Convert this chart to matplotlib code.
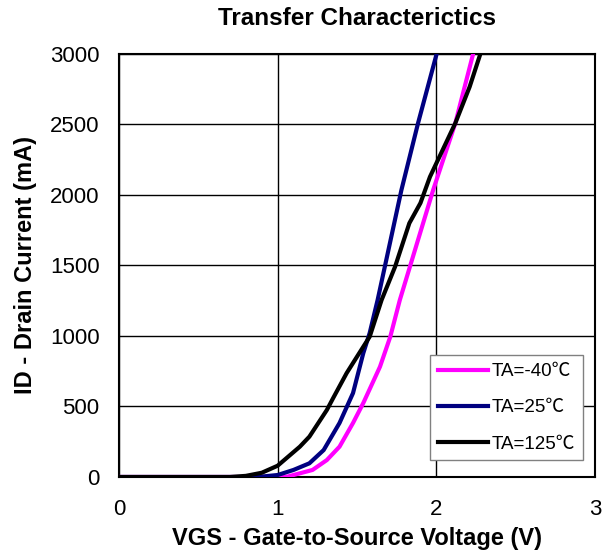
import matplotlib
matplotlib.use("Agg")
import matplotlib.pyplot as plt

plt.rcParams['font.family'] = ['Liberation Sans', 'Noto Sans CJK SC', 'DejaVu Sans']

# -40 C (magenta)
vgs_m40 = [0.0, 0.9, 1.06, 1.22, 1.31, 1.39, 1.475, 1.54, 1.645, 1.71, 1.77, 1.98, 2.12, 2.23]
id_m40 = [0, 0, 2, 50, 120, 215, 383, 525, 782, 995, 1255, 2035, 2510, 2992]

# 25 C (navy)
vgs_25 = [0.0, 0.8, 0.9, 1.0, 1.1, 1.2, 1.29, 1.39, 1.475, 1.54, 1.58, 1.63, 1.78, 1.885, 2.0]
id_25 = [0, 0, 3, 14, 50, 97, 191, 383, 595, 879, 1021, 1255, 2035, 2510, 2992]

# 125 C (black)
vgs_125 = [0.0, 0.7, 0.8, 0.9, 1.0, 1.14, 1.2, 1.31, 1.35, 1.435, 1.5, 1.58, 1.655, 1.74,
           1.83, 1.9, 1.96, 2.01, 2.12, 2.21, 2.275]
id_125 = [0, 0, 8, 30, 80, 215, 286, 475, 560, 737, 853, 995, 1255, 1491,
          1800, 1943, 2129, 2248, 2510, 2767, 2992]

labels = ['TA=-40\u2103', 'TA=25\u2103', 'TA=125\u2103']
colors = ['#FF00FF', '#000080', '#000000']

x_ticks = [0, 1, 2, 3]
y_ticks = [0, 500, 1000, 1500, 2000, 2500, 3000]

fig = plt.figure(figsize=(6.12, 5.56), dpi=100)
ax = fig.add_axes([0.1944, 0.1421, 0.7778, 0.7608])

ax.plot(vgs_m40, id_m40, color=colors[0], lw=3, label=labels[0], zorder=3)
ax.plot(vgs_25, id_25, color=colors[1], lw=3, label=labels[1], zorder=4)
ax.plot(vgs_125, id_125, color=colors[2], lw=3, label=labels[2], zorder=5)

ax.set_xlim(0, 3)
ax.set_ylim(0, 3000)
ax.set_xticks(x_ticks)
ax.set_yticks(y_ticks)
ax.tick_params(length=0, labelsize=16)
ax.tick_params(axis='x', pad=16)
ax.tick_params(axis='y', pad=14)
ax.grid(True, color='black', lw=1)
for s in ax.spines.values():
    s.set_color('black')
    s.set_linewidth(1.5)

ax.set_title('Transfer Characterictics', fontsize=17.5, fontweight='bold', pad=21)
ax.set_xlabel('VGS - Gate-to-Source Voltage (V)', fontsize=17, fontweight='bold', labelpad=5)
ax.set_ylabel('ID - Drain Current (mA)', fontsize=17, fontweight='bold', labelpad=9)

leg = ax.legend(loc='lower right', bbox_to_anchor=(0.975, 0.040), borderaxespad=0,
                fontsize=13.5, frameon=True, fancybox=False, edgecolor='gray',
                framealpha=1, handlelength=2.7, labelspacing=1.02, borderpad=0.4,
                handletextpad=0.2)
leg.get_frame().set_linewidth(1)

fig.savefig('out.png', dpi=100)
